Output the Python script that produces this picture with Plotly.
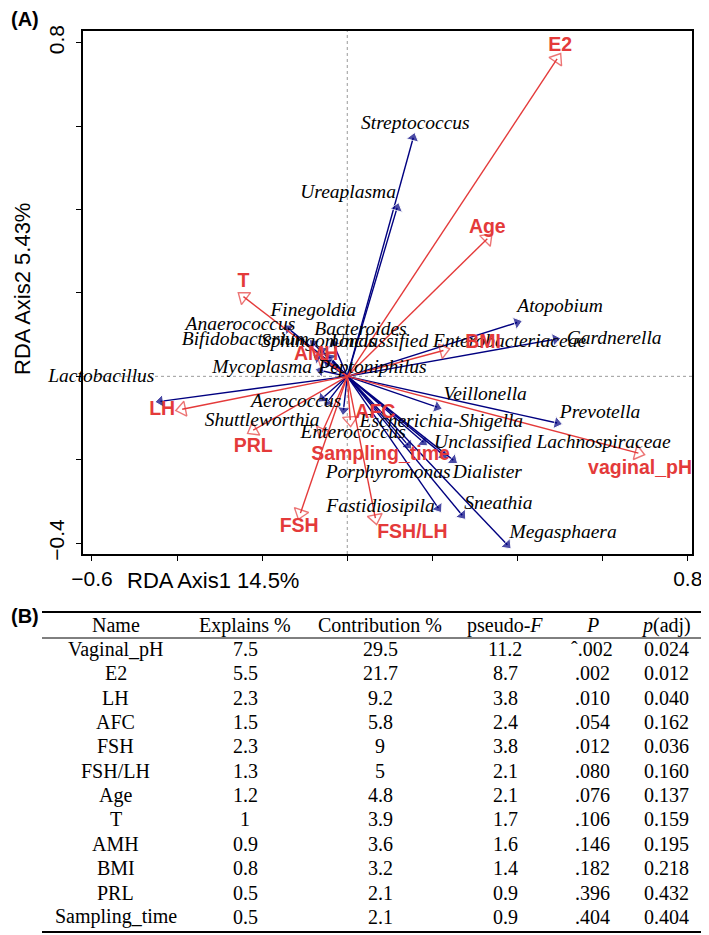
import plotly.graph_objects as go

# The page has an 8px body margin, so the figure is drawn 8px smaller and
# every reference-pixel position is shifted by that offset.
PAGE_W, PAGE_H = 709, 935
OFF = 8
W, H = PAGE_W - OFF, PAGE_H - OFF

# ---------------- data (RDA biplot) ----------------
env_names = ["E2", "Age", "T", "AMH", "BMI", "LH", "PRL", "Sampling_time",
             "AFC", "FSH", "FSH/LH", "vaginal_pH"]
env_x = [0.493, 0.329, -0.244, -0.059, 0.226, -0.388, -0.221, -0.059,
         0.007, -0.110, 0.066, 0.684]
env_y = [0.761, 0.330, 0.191, 0.043, 0.062, -0.079, -0.129, -0.134,
         -0.105, -0.328, -0.340, -0.184]
env_lab_x = [0.500, 0.329, -0.244, -0.073, 0.319, -0.435, -0.221, 0.078,
             0.066, -0.113, 0.153, 0.688]
env_lab_y = [0.792, 0.356, 0.225, 0.050, 0.079, -0.081, -0.170, -0.189,
             -0.089, -0.361, -0.376, -0.222]

sp_names = ["Streptococcus", "Ureaplasma", "Atopobium", "Gardnerella",
            "Unclassified Enterobacteriaceae", "Finegoldia", "Anaerococcus",
            "Bifidobacterium", "Sphingomonas", "Bacteroides", "Mycoplasma",
            "Peptoniphilus", "Lactobacillus", "Aerococcus", "Shuttleworthia",
            "Enterococcus", "Escherichia-Shigella", "Veillonella", "Prevotella",
            "Unclassified Lachnospiraceae", "Porphyromonas", "Dialister",
            "Fastidiosipila", "Sneathia", "Megasphaera"]
sp_x = [0.155, 0.117, 0.399, 0.489, -0.040, -0.059, -0.139, -0.080, -0.070,
        -0.033, -0.063, -0.047, -0.439, -0.047, -0.059, -0.009, 0.143, 0.211,
        0.493, 0.179, 0.226, 0.249, 0.214, 0.270, 0.376]
sp_y = [0.572, 0.404, 0.129, 0.089, 0.045, 0.062, 0.115, 0.079, 0.045,
        0.079, 0.014, 0.033, -0.060, -0.062, -0.053, -0.081, -0.165, -0.074,
        -0.112, -0.158, -0.189, -0.201, -0.316, -0.333, -0.404]
sp_lab_x = [0.160, 0.002, 0.500, 0.627, 0.261, -0.080, -0.251, -0.240, -0.068,
            0.031, -0.200, 0.059, -0.578, -0.120, -0.200, 0.014, 0.221, 0.324,
            0.594, 0.482, 0.096, 0.329, 0.078, 0.355, 0.507]
sp_lab_y = [0.605, 0.440, 0.165, 0.089, 0.081, 0.156, 0.122, 0.086, 0.081,
            0.110, 0.019, 0.019, -0.002, -0.062, -0.108, -0.136, -0.110, -0.045,
            -0.089, -0.160, -0.232, -0.232, -0.313, -0.306, -0.376]

x_ticks = [-0.6, -0.4, -0.2, 0.0, 0.2, 0.4, 0.6, 0.8]
x_ticktext = ["\u22120.6", "", "", "", "", "", "", "0.8"]
y_ticks = [-0.4, -0.2, 0.0, 0.2, 0.4, 0.6, 0.8]
y_ticktext = ["\u22120.4", "", "", "", "", "", "0.8"]

# ---------------- data (table) ----------------
tbl_header = ["Name", "Explains %", "Contribution %", "pseudo-<i>F</i>",
              "<i>P</i>", "<i>p</i>(adj)"]
tbl_name = ["Vaginal_pH", "E2", "LH", "AFC", "FSH", "FSH/LH", "Age", "T",
            "AMH", "BMI", "PRL", "Sampling_time"]
tbl_explains = ["7.5", "5.5", "2.3", "1.5", "2.3", "1.3", "1.2", "1", "0.9",
                "0.8", "0.5", "0.5"]
tbl_contrib = ["29.5", "21.7", "9.2", "5.8", "9", "5", "4.8", "3.9", "3.6",
               "3.2", "2.1", "2.1"]
tbl_pseudoF = ["11.2", "8.7", "3.8", "2.4", "3.8", "2.1", "2.1", "1.7", "1.6",
               "1.4", "0.9", "0.9"]
tbl_P = ["\u02c6.002", ".002", ".010", ".054", ".012", ".080", ".076", ".106",
         ".146", ".182", ".396", ".404"]
tbl_padj = ["0.024", "0.012", "0.040", "0.162", "0.036", "0.160", "0.137",
            "0.159", "0.195", "0.218", "0.432", "0.404"]

# ---------------- styles ----------------
RED = "rgb(228,58,58)"
BLUE = "rgb(0,0,128)"
SERIF = "Liberation Serif"
SANS = "Liberation Sans"


def fx(px):
    return (px - OFF) / W


def fy(py):
    return 1 - (py - OFF) / H


fig = go.Figure()

# species arrows (blue, filled heads)
for n, x, y in zip(sp_names, sp_x, sp_y):
    fig.add_trace(go.Scatter(
        x=[0, x], y=[0, y], mode="lines+markers", cliponaxis=False,
        line=dict(color=BLUE, width=1.4),
        marker=dict(symbol=["circle", "triangle-up"], size=[0, 11],
                    angleref="previous", color=BLUE),
        hoverinfo="skip", showlegend=False))

# environmental arrows (red, open heads)
for n, x, y in zip(env_names, env_x, env_y):
    fig.add_trace(go.Scatter(
        x=[0, x], y=[0, y], mode="lines+markers", cliponaxis=False,
        line=dict(color=RED, width=1.4),
        marker=dict(symbol=["circle", "triangle-up-open"], size=[0, 13],
                    angleref="previous", color=RED,
                    line=dict(color=RED, width=1.4)),
        hoverinfo="skip", showlegend=False))

# species labels
fig.add_trace(go.Scatter(
    x=sp_lab_x, y=sp_lab_y, text=sp_names, mode="text", cliponaxis=False,
    textfont=dict(family=SERIF, size=19.5, color="black", style="italic"),
    hoverinfo="skip", showlegend=False))

# environmental labels
fig.add_trace(go.Scatter(
    x=env_lab_x, y=env_lab_y, text=env_names, mode="text", cliponaxis=False,
    textfont=dict(family=SANS, size=19.5, color=RED, weight="bold"),
    hoverinfo="skip", showlegend=False))

x_range = [-0.621, 0.810]
y_range = [-0.426, 0.828]

shapes = [
    dict(type="line", xref="x", yref="y", x0=0, x1=0, y0=y_range[0], y1=y_range[1],
         line=dict(color="gray", width=0.8, dash="dot"), layer="below"),
    dict(type="line", xref="x", yref="y", x0=x_range[0], x1=x_range[1], y0=0, y1=0,
         line=dict(color="gray", width=0.8, dash="dot"), layer="below"),
    # table rules
    dict(type="line", xref="paper", yref="paper", x0=fx(42), x1=fx(707),
         y0=fy(612), y1=fy(612), line=dict(color="black", width=2)),
    dict(type="line", xref="paper", yref="paper", x0=fx(42), x1=fx(707),
         y0=fy(638), y1=fy(638), line=dict(color="black", width=1)),
    dict(type="line", xref="paper", yref="paper", x0=fx(42), x1=fx(707),
         y0=fy(932), y1=fy(932), line=dict(color="black", width=2)),
]

annotations = [
    dict(text="<b>(A)</b>", x=fx(9), y=fy(19), xref="paper", yref="paper",
         xanchor="left", yanchor="middle", showarrow=False,
         font=dict(family=SANS, size=20, color="black")),
    dict(text="<b>(B)</b>", x=fx(9), y=fy(616), xref="paper", yref="paper",
         xanchor="left", yanchor="middle", showarrow=False,
         font=dict(family=SANS, size=20, color="black")),
    dict(text="RDA Axis1 14.5%", x=fx(213), y=fy(580), xref="paper", yref="paper",
         xanchor="center", yanchor="middle", showarrow=False,
         font=dict(family=SANS, size=22, color="black")),
    dict(text="RDA Axis2 5.43%", x=fx(22), y=fy(289), xref="paper", yref="paper",
         xanchor="center", yanchor="middle", showarrow=False, textangle=-90,
         font=dict(family=SANS, size=22, color="black")),
]

col_x = [116, 245, 380, 505, 592, 666]
row_y0, row_dy = 649, 24.35
tfont = dict(family=SERIF, size=20, color="black")
for cx, h in zip(col_x, tbl_header):
    annotations.append(dict(text=h, x=fx(cx), y=fy(625), xref="paper", yref="paper",
                            xanchor="center", yanchor="middle", showarrow=False, font=tfont))
columns = [tbl_name, tbl_explains, tbl_contrib, tbl_pseudoF, tbl_P, tbl_padj]
for cx, col in zip(col_x, columns):
    for i, v in enumerate(col):
        annotations.append(dict(text=v, x=fx(cx), y=fy(row_y0 + i * row_dy),
                                xref="paper", yref="paper", xanchor="center",
                                yanchor="middle", showarrow=False, font=tfont))

fig.update_layout(
    width=W, height=H,
    margin=dict(l=0, r=0, t=0, b=0, pad=0, autoexpand=False),
    paper_bgcolor="white", plot_bgcolor="white",
    xaxis=dict(domain=[fx(83), fx(692)], range=x_range, showgrid=False,
               automargin=False,
               zeroline=False, showline=True, linecolor="black", linewidth=1.5,
               mirror=True, ticks="outside", ticklen=5, tickcolor="black",
               tickvals=x_ticks, ticktext=x_ticktext,
               tickfont=dict(family=SANS, size=21, color="black")),
    yaxis=dict(domain=[fy(554), fy(31)], range=y_range, showgrid=False,
               automargin=False, ticklabelstandoff=4,
               zeroline=False, showline=True, linecolor="black", linewidth=1.5,
               mirror=True, ticks="outside", ticklen=5, tickcolor="black",
               tickvals=y_ticks, ticktext=y_ticktext, tickangle=-90,
               tickfont=dict(family=SANS, size=21, color="black")),
    shapes=shapes,
    annotations=annotations,
)

fig.write_html("out.html")
